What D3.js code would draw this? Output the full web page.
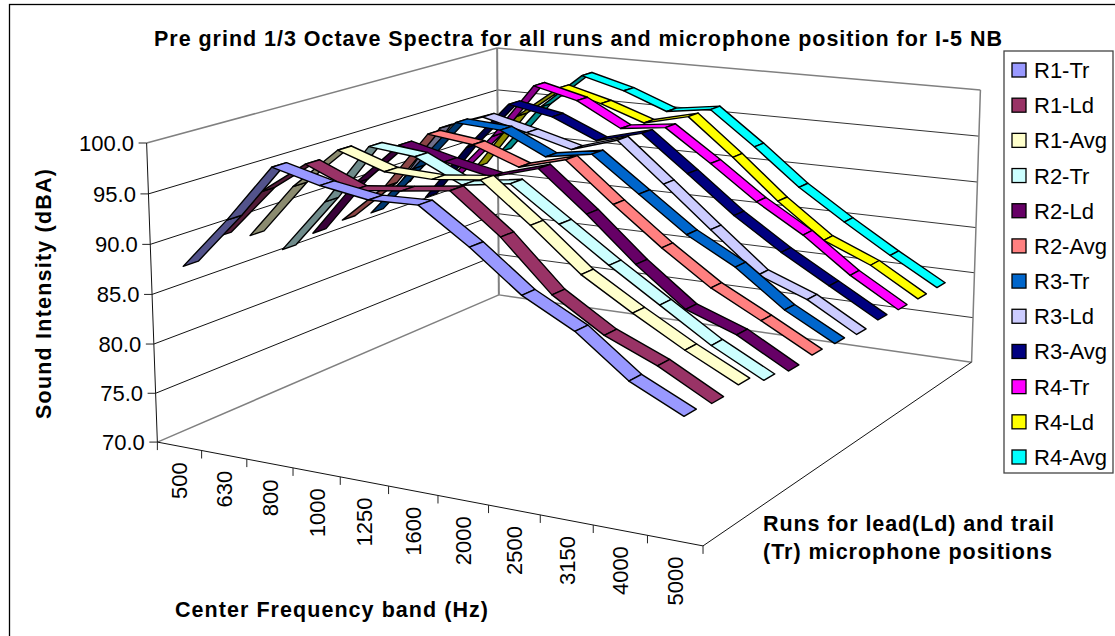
<!DOCTYPE html>
<html>
<head>
<meta charset="utf-8">
<script src="https://cdn.jsdelivr.net/npm/d3@7"></script>
<style>
  body { margin:0; background:#fff; }
  text { font-family:"Liberation Sans", Arial, sans-serif; fill:#000; }
  .axis-title { font-weight:bold; }
</style>
</head>
<body>
<svg id="viz-container" width="1115" height="636"></svg>
<script>
var frequencies = ["500","630","800","1000","1250","1600","2000","2500","3150","4000","5000"];
var valueTicks = [70,75,80,85,90,95,100];
var seriesNames = ["R1-Tr","R1-Ld","R1-Avg","R2-Tr","R2-Ld","R2-Avg","R3-Tr","R3-Ld","R3-Avg","R4-Tr","R4-Ld","R4-Avg"];
var seriesColors = ["#9999ff","#993366","#ffffcc","#ccffff","#660066","#ff8080","#0066cc","#ccccff","#000080","#ff00ff","#ffff00","#00ffff"];

var r1Tr  = [87.8,93.0,98.7,97.5,96.7,96.8,93.5,89.7,87.1,83.3,80.9];
var r1Ld  = [89.6,94.7,98.0,96.0,96.5,97.1,93.3,88.5,85.4,83.3,80.6];
var r1Avg = [88.6,94.2,98.4,96.8,96.6,97.1,93.3,89.2,86.2,83.4,80.9];
var r2Tr  = [86.0,91.6,97.8,97.3,95.0,95.7,92.3,88.9,85.7,82.5,79.9];
var r2Ld  = [86.6,92.5,97.0,95.8,94.8,96.2,92.2,87.8,84.0,82.2,79.4];
var r2Avg = [86.9,91.1,97.2,96.6,94.8,96.1,92.1,88.3,84.9,82.3,79.6];
var r3Tr  = [86.6,92.0,97.5,97.2,94.9,95.7,92.1,88.5,85.8,82.1,79.4];
var r3Ld  = [88.6,95.5,97.2,96.0,94.7,96.2,92.1,87.9,83.8,81.9,79.0];
var r3Avg = [86.2,92.4,97.7,96.8,94.7,96.0,92.2,88.3,85.0,82.1,79.2];
var r4Tr  = [87.5,92.7,98.9,97.7,95.1,95.7,92.3,88.7,85.7,82.0,79.0];
var r4Ld  = [87.7,94.1,97.8,96.5,94.8,96.0,92.0,87.7,84.0,81.9,78.9];
var r4Avg = [88.5,94.3,98.4,97.1,95.2,95.9,92.2,88.2,84.9,81.8,78.9];
var seriesValues = [r1Tr,r1Ld,r1Avg,r2Tr,r2Ld,r2Avg,r3Tr,r3Ld,r3Avg,r4Tr,r4Ld,r4Avg];

var svg = d3.select("#viz-container");

// cube corners on screen, [freq side, depth side, height, px, py]. the camera is solved from these
var cubeCorners = [[0,0,0,158,442],[1,0,0,703,546],[0,1,0,498,295],[1,1,0,972,362],
                   [0,0,1,146,143],[0,1,1,498,48],[1,1,1,980,90]];

// least squares for the 3x4 projection (last entry fixed at 1)
function solveCamera(pts){
  var A = [], b = [];
  pts.forEach(function(p){
    var u = p[0], v = p[1], w = p[2], x = p[3], y = p[4];
    A.push([u,v,w,1,0,0,0,0,-x*u,-x*v,-x*w]); b.push(x);
    A.push([0,0,0,0,u,v,w,1,-y*u,-y*v,-y*w]); b.push(y);
  });
  var n = 11;
  var N = d3.range(n).map(function(i){
    return d3.range(n).map(function(j){ return d3.sum(A,function(r){ return r[i]*r[j]; }); })
      .concat(d3.sum(A,function(r,k){ return r[i]*b[k]; }));
  });
  for (var i=0;i<n;i++){
    var p = i, k;
    for (k=i;k<n;k++) if (Math.abs(N[k][i])>Math.abs(N[p][i])) p = k;
    var t = N[i]; N[i] = N[p]; N[p] = t;
    for (k=0;k<n;k++) if (k!=i){
      var f = N[k][i]/N[i][i];
      for (var j=i;j<=n;j++) N[k][j] -= f*N[i][j];
    }
  }
  return N.map(function(r,i){ return r[n]/r[i]; }).concat([1]);
}
var cam = solveCamera(cubeCorners);
function project(u,v,w){
  var d = cam[8]*u+cam[9]*v+cam[10]*w+cam[11];
  return [(cam[0]*u+cam[1]*v+cam[2]*w+cam[3])/d,(cam[4]*u+cam[5]*v+cam[6]*w+cam[7])/d];
}

// scales go to unit cube, project() takes it to the screen
var freqScale = d3.scaleBand().domain(frequencies).range([0,1]);
var depthScale = d3.scaleBand().domain(seriesNames).range([0,1]).paddingInner(.56).paddingOuter(.28);
var valueScale = d3.scaleLinear().domain([70,100]).range([0,1]);
var freqCenter = function(f){ return freqScale(f)+freqScale.bandwidth()/2; };

function drawLine(g,a,b,color,width){
  var p = project(a[0],a[1],a[2]), q = project(b[0],b[1],b[2]);
  g.append("line").attr("x1",p[0]).attr("y1",p[1]).attr("x2",q[0]).attr("y2",q[1])
    .attr("stroke",color).attr("stroke-width",width);
}

// outer frame, runs off the picture on the right and bottom
svg.append("rect").attr("x",9.5).attr("y",4.5).attr("width",1200).attr("height",700)
  .attr("fill","none").attr("stroke","#000").attr("stroke-width",1.3);

// walls
var walls = svg.append("g").attr("id","walls");
valueScale.ticks(6).filter(function(d){ return d>70 && d<100; }).forEach(function(d){
  var w = valueScale(d);
  drawLine(walls,[0,0,w],[0,1,w],"#111",1);
  drawLine(walls,[0,1,w],[1,1,w],"#333",1);
});
var gray = "#808080";
drawLine(walls,[0,0,1],[0,1,1],gray,1.5);
drawLine(walls,[0,1,1],[1,1,1],gray,1.5);
drawLine(walls,[0,0,0],[0,1,0],gray,1.5);
drawLine(walls,[0,1,0],[1,1,0],gray,1.5);
drawLine(walls,[0,1,0],[0,1,1],gray,2);
drawLine(walls,[1,1,0],[1,1,1],gray,1.5);

// axes
var axes = svg.append("g").attr("id","axes");
drawLine(axes,[0,0,0],[0,0,1],"#111",1);
drawLine(axes,[0,0,0],[1,0,0],"#111",1);
drawLine(axes,[1,0,0],[1,1,0],"#111",1);

valueTicks.forEach(function(d){
  var p = project(0,0,valueScale(d));
  axes.append("line").attr("x1",p[0]-8).attr("x2",p[0]).attr("y1",p[1]).attr("y2",p[1])
    .attr("stroke","#222").attr("stroke-width",1);
  axes.append("text").attr("x",p[0]-12.5).attr("y",p[1]+8)
    .attr("text-anchor","end").style("font-size","22px").text(d.toFixed(1));
});

d3.range(frequencies.length+1).forEach(function(i){
  var p = project(i/frequencies.length,0,0);
  axes.append("line").attr("x1",p[0]).attr("x2",p[0]).attr("y1",p[1]).attr("y2",p[1]+8)
    .attr("stroke","#222").attr("stroke-width",1);
});
frequencies.forEach(function(f){
  var p = project(freqCenter(f),0,0);
  axes.append("text")
    .attr("transform","translate("+(p[0]+8)+","+(p[1]+16)+") rotate(-90)")
    .attr("text-anchor","end").style("font-size","22px").text(f);
});

// ribbons, back series first so the front ones paint over
var floorSign = Math.sign(d3.polygonArea([project(0,0,0),project(1,0,0),project(1,1,0),project(0,1,0)]));
var ribbons = svg.append("g").attr("id","ribbons");
d3.range(seriesNames.length).reverse().forEach(function(s){
  var name = seriesNames[s]
    , v0 = depthScale(name)
    , v1 = v0+depthScale.bandwidth()
    , vals = seriesValues[s]
    , shade = d3.rgb(seriesColors[s]).darker(1.7);
  d3.range(frequencies.length-1).forEach(function(i){
    var u0 = freqCenter(frequencies[i]), u1 = freqCenter(frequencies[i+1])
      , w0 = valueScale(vals[i]), w1 = valueScale(vals[i+1]);
    var quad = [project(u0,v0,w0),project(u1,v0,w1),project(u1,v1,w1),project(u0,v1,w0)];
    // underside showing when the winding flips
    var under = Math.sign(d3.polygonArea(quad))!=floorSign;
    ribbons.append("path")
      .attr("class","ribbon "+name)
      .attr("d","M"+quad.join("L")+"Z")
      .attr("fill",under ? shade : seriesColors[s])
      .attr("stroke","#000").attr("stroke-width",1.4).attr("stroke-linejoin","round");
  });
});

// titles
function title(x,y,len,txt){
  svg.append("text").attr("class","axis-title").attr("x",x).attr("y",y)
    .attr("textLength",len).attr("lengthAdjust","spacing")
    .style("font-size","21.5px").text(txt);
}
title(154,46,848,"Pre grind 1/3 Octave Spectra for all runs and microphone position for I-5 NB");
title(175,617,313,"Center Frequency band (Hz)");
title(763,531,291,"Runs for lead(Ld) and trail");
title(763,559,289,"(Tr) microphone positions");
svg.append("text").attr("class","axis-title")
  .attr("transform","translate(51,419) rotate(-90)")
  .attr("textLength",250).attr("lengthAdjust","spacing")
  .style("font-size","21.5px").text("Sound Intensity (dBA)");

// legend
var legendScale = d3.scalePoint().domain(seriesNames).range([70,457]);
var legend = svg.append("g").attr("id","legend");
legend.append("rect").attr("x",1004).attr("y",51).attr("width",109).attr("height",422)
  .attr("fill","#fff").attr("stroke","#444").attr("stroke-width",1.3);
legend.selectAll(".swatch").data(seriesNames).enter().append("rect")
  .attr("class","swatch")
  .attr("x",1012).attr("y",function(d){ return legendScale(d)-7; })
  .attr("width",14).attr("height",14)
  .attr("fill",function(d,i){ return seriesColors[i]; })
  .attr("stroke","#000").attr("stroke-width",1.3);
legend.selectAll(".label").data(seriesNames).enter().append("text")
  .attr("class","label")
  .attr("x",1034).attr("y",function(d){ return legendScale(d)+8; })
  .style("font-size","22px").text(function(d){ return d; });
</script>
</body>
</html>
